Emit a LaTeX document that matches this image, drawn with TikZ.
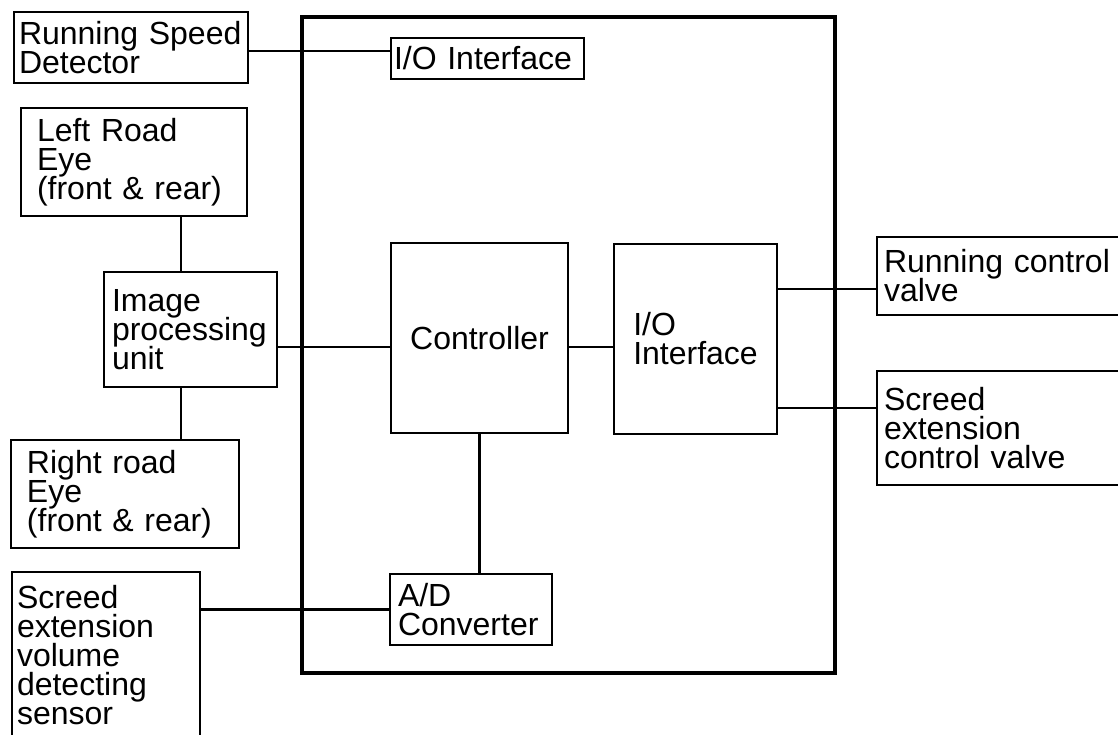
\documentclass[tikz,border=0pt]{standalone}
\usepackage{fontspec}
\setmainfont{Liberation Sans}
\newcommand\blkfont{\fontsize{32pt}{29pt}\selectfont\lineskiplimit=-40pt\relax}
\tikzset{
  blk/.style={draw, line width=2.2pt, inner xsep=8pt, inner ysep=0pt, align=left, font=\blkfont},
  wire/.style={line width=2.2pt},
}

\begin{document}
\begin{tikzpicture}[x=1pt,y=-1pt]
  \useasboundingbox (0,0) rectangle (1118,734);
  \clip (0,0) rectangle (1118,734);
  \node[draw, line width=4.5pt, minimum width=533pt, minimum height=656pt] (frame) at (568.5,345) {};
  % sensors
  \node[blk, inner xsep=5pt, text width=224pt, minimum height=71pt] (rsd) at (131,47.5) {Running Speed\\Detector};
  \node[blk, inner xsep=16pt, text width=194pt, minimum height=108pt] (lre) at (134,162) {Left Road\\Eye\\(front \& rear)};
  \node[blk, text width=157pt, minimum height=115pt] (ipu) at (190.5,329.5) {Image\\processing\\unit};
  \node[blk, inner xsep=16pt, text width=196pt, minimum height=108pt] (rre) at (125,494) {Right road\\Eye\\(front \& rear)};
  \node[blk, inner xsep=5pt, text width=178pt, minimum height=166pt] (sens) at (106,655) {Screed\\extension\\volume\\detecting\\sensor};
  % inside the frame
  \node[blk, inner xsep=3pt, text width=187pt, minimum height=41pt] (iotop) at (487.5,58.5) {I/O Interface};
  \node[blk, align=center, text width=161pt, minimum height=190pt] (ctrl) at (479.5,338) {Controller};
  \node[blk, minimum width=163pt, minimum height=190pt] (iomid) at (695.5,339) {I/O\\Interface};
  \node[blk, text width=146pt, minimum height=71pt] (ad) at (471,609.5) {A/D\\Converter};
  % valves
  \node[blk, inner xsep=7pt, text width=239pt, minimum height=78pt] (rcv) at (1003.5,276) {Running control\\valve};
  \node[blk, inner xsep=7pt, text width=239pt, minimum height=114pt] (secv) at (1003.5,428) {Screed\\extension\\control valve};

  \coordinate (toprow) at (0,51);
  \coordinate (eyebus) at (181,0);
  \coordinate (midrow) at (0,347);
  \coordinate (outA) at (0,289);
  \coordinate (outB) at (0,408);

  \draw[wire] (rsd.east |- toprow) -- (iotop.west |- toprow);
  \draw[wire] (eyebus |- lre.south) -- (eyebus |- ipu.north);
  \draw[wire] (eyebus |- ipu.south) -- (eyebus |- rre.north);
  \draw[wire] (ipu.east |- midrow) -- (ctrl.west |- midrow);
  \draw[wire] (ctrl.east |- midrow) -- (iomid.west |- midrow);
  \draw[wire] (ctrl.south) -- (ctrl.south |- ad.north);
  \draw[wire] (sens.east |- ad.west) -- (ad.west);
  \draw[wire] (iomid.east |- outA) -- (rcv.west |- outA);
  \draw[wire] (iomid.east |- outB) -- (secv.west |- outB);
\end{tikzpicture}
\end{document}
